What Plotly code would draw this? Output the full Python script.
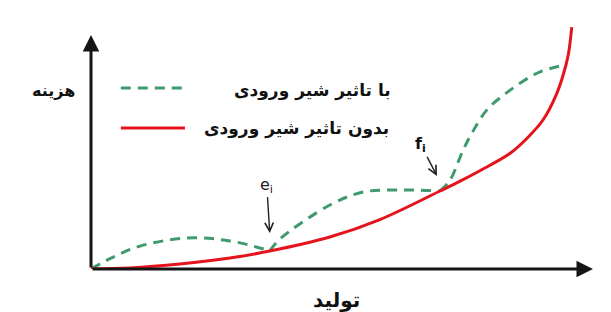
import plotly.graph_objects as go

# ---- data (conceptual cost curves; x = production, y = cost) ----
prod_red = [0, 7.7, 17.6, 27.5, 35.4, 47.3, 57.2, 69.1, 73.1, 77, 83, 86.3, 89.5, 92.1, 93.5, 94.5, 95.2]
cost_red = [0, 0.4, 1.9, 4.2, 6.9, 12.3, 19, 30, 33.8, 37.8, 44.5, 50.2, 57.3, 66.9, 74.6, 82.3, 93]

prod_green_1 = [0, 4.4, 9.7, 19, 27.5, 35.4]
cost_green_1 = [0, 4.6, 8.8, 11.9, 10.8, 7]
prod_green_2 = [35.4, 37.4, 47.3, 53.9, 61.2, 69.1]
cost_green_2 = [7, 11.5, 24.6, 29.6, 30.4, 30]
prod_green_3 = [69.1, 71.1, 73.7, 75.5, 78.4, 83, 88.9, 94.0]
cost_green_3 = [30, 34.2, 45.8, 52.5, 61.2, 68.8, 75.8, 78.5]

# axis extents (arrow tips)
x_axis_end = 99.4
y_axis_end = 90

label_green = "با تاثیر شیر ورودی"
label_red = "بدون تاثیر شیر ورودی"
y_title = "هزینه"
x_title = "تولید"

GREEN = "#3f9a6c"
RED = "#e5141c"
AX = "#151515"
FONT = "DejaVu Sans"

fig = go.Figure()

for gx, gy in [(prod_green_1, cost_green_1), (prod_green_2, cost_green_2), (prod_green_3, cost_green_3)]:
    fig.add_trace(go.Scatter(x=gx, y=gy, mode="lines", name=label_green,
                             line=dict(color=GREEN, width=3, dash="10px,7px", shape="spline", smoothing=1),
                             showlegend=False, hoverinfo="skip", cliponaxis=False))

fig.add_trace(go.Scatter(x=prod_red, y=cost_red, mode="lines", name=label_red,
                         line=dict(color=RED, width=3, shape="spline", smoothing=1),
                         showlegend=False, hoverinfo="skip", cliponaxis=False))

annotations = []
# axes with arrow heads
annotations.append(dict(x=x_axis_end, y=0, ax=0, ay=0, xref="x", yref="y", axref="x", ayref="y",
                        text="", showarrow=True, arrowhead=2, arrowsize=1.1, arrowwidth=3, arrowcolor=AX))
annotations.append(dict(x=0, y=y_axis_end, ax=0, ay=0, xref="x", yref="y", axref="x", ayref="y",
                        text="", showarrow=True, arrowhead=2, arrowsize=1.1, arrowwidth=3, arrowcolor=AX))
# e_i and f_i pointers (label with arrow)
annotations.append(dict(x=35.4, y=13.8, xref="x", yref="y", ax=-3, ay=-48,
                        text="e<sub>i</sub>", showarrow=True, arrowhead=5, arrowsize=1.2,
                        arrowwidth=1.4, arrowcolor="#222", standoff=0,
                        font=dict(family=FONT, size=16, color="#222")))
annotations.append(dict(x=68.5, y=35.8, xref="x", yref="y", ax=-16, ay=-31,
                        text="<b>f<sub>i</sub></b>", showarrow=True, arrowhead=5, arrowsize=1.2,
                        arrowwidth=1.4, arrowcolor="#222", standoff=0,
                        font=dict(family=FONT, size=16, color="#111")))
# axis titles
annotations.append(dict(x=-0.075, y=0.688, xref="paper", yref="paper", xanchor="center", yanchor="middle",
                        text="<b>" + y_title + "</b>",
                        showarrow=False, font=dict(family=FONT, size=16, color="#111")))
annotations.append(dict(x=0.487, y=-0.12, xref="paper", yref="paper", xanchor="center", yanchor="middle",
                        text="<b>" + x_title + "</b>",
                        showarrow=False, font=dict(family=FONT, size=20, color="#111")))
# legend texts
annotations.append(dict(x=0.598, y=0.688, xref="paper", yref="paper", xanchor="right", yanchor="middle",
                        text="<b>" + label_green + "</b>",
                        showarrow=False, font=dict(family=FONT, size=17, color="#111")))
annotations.append(dict(x=0.594, y=0.54, xref="paper", yref="paper", xanchor="right", yanchor="middle",
                        text="<b>" + label_red + "</b>",
                        showarrow=False, font=dict(family=FONT, size=17, color="#111")))

shapes = [
    dict(type="line", xref="paper", yref="paper", x0=0.059, x1=0.186, y0=0.696, y1=0.696,
         line=dict(color=GREEN, width=3, dash="10px,7px")),
    dict(type="line", xref="paper", yref="paper", x0=0.059, x1=0.186, y0=0.542, y1=0.542,
         line=dict(color=RED, width=3)),
]

fig.update_layout(
    width=603, height=304, autosize=False,
    margin=dict(l=83, r=15, t=1, b=43),
    paper_bgcolor="white", plot_bgcolor="white",
    xaxis=dict(range=[0, 100], visible=False, fixedrange=True),
    yaxis=dict(range=[0, 100], visible=False, fixedrange=True),
    annotations=annotations, shapes=shapes, showlegend=False,
)

fig.write_html("out.html")
